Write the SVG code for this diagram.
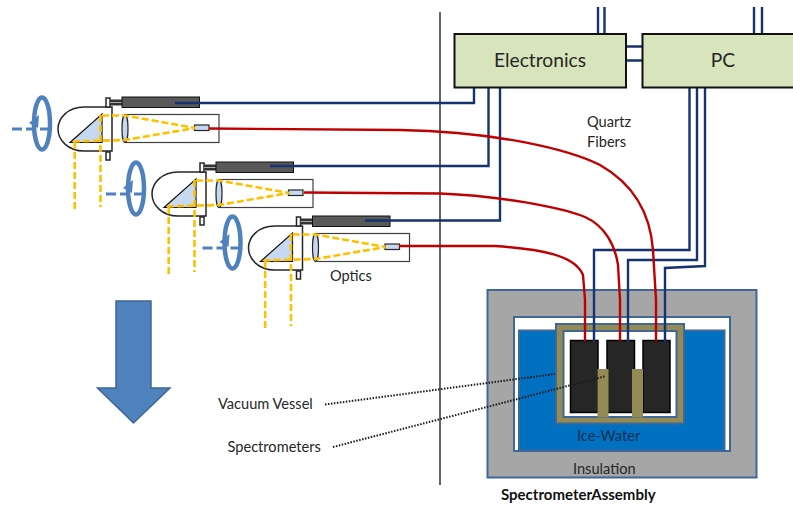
<svg xmlns="http://www.w3.org/2000/svg" width="793" height="507" viewBox="0 0 793 507">
<style>
text{font-family:"Lato","Open Sans","Liberation Sans",sans-serif;fill:#262626;font-size:14.6px}
.o{fill:#fff;stroke:#262626;stroke-width:1.5}
.y{fill:none;stroke:#ffc000;stroke-width:2.6;stroke-dasharray:7 3}
.l{fill:#c6d9f1;stroke:#262626;stroke-width:1.2}
.rot{fill:none;stroke:#4f81bd;stroke-width:4.5}
.b{fill:none;stroke:#14336f;stroke-width:2.4}
.r{fill:none;stroke:#c00000;stroke-width:2.4}
.d{fill:none;stroke:#1a1a1a;stroke-width:2;stroke-dasharray:1.5 1.5}
.h{stroke:#3f6797;stroke-width:2}
.box{fill:#d8e4bc;stroke:#111;stroke-width:2}
.sp{fill:#262626;stroke:#000;stroke-width:1.5}
.ol{fill:#948a54}
</style>
<defs>
<g id="scope">
<ellipse class="rot" cx="42" cy="123.500" rx="8" ry="26"/>
<path d="M12 129H54" fill="none" stroke="#4f81bd" stroke-width="3" stroke-dasharray="10 4"/>
<path d="M29 123L38 128L39 115Z" fill="#4f81bd"/>
<path d="M112 107H84C68 107 58 118 58 129C58 140 68 151 84 151H112Z" fill="#fff" stroke="#262626" stroke-width="1.500"/>
<rect class="o" x="106" y="98" width="4" height="9"/>
<rect class="o" x="106" y="152" width="4" height="8"/>
<rect x="110" y="99.500" width="12" height="6" fill="#333"/>
<path d="M110 102.500H122" stroke="#ddd" stroke-width="0.700"/>
<rect x="122" y="97" width="77.500" height="10.500" fill="#595959" stroke="#111" stroke-width="1"/>
<rect x="125" y="114.500" width="94" height="28" fill="#fff" stroke="#404040" stroke-width="1.200"/>
<path d="M70 142.500L102 114V142.500Z" fill="#c6d9f1" stroke="#111" stroke-width="1.200"/>
<ellipse class="l" cx="125" cy="128.500" rx="3" ry="14"/>
<rect class="l" x="194.500" y="125" width="14.500" height="5.500"/>
<path class="y" d="M102 115.500H125L195 128L125 140L71 141.500"/>
<path class="y" d="M100.500 115V207"/>
<path class="y" d="M74.700 142V211"/>
</g>
</defs>

<path d="M440 12V485" stroke="#666" stroke-width="2" fill="none"/>

<g id="assembly">
<rect x="487.500" y="290" width="269" height="187.500" fill="#a6a6a6" class="h"/>
<rect x="514" y="317" width="216" height="134" fill="#fff" class="h"/>
<rect x="519" y="330.500" width="205.500" height="120" fill="#0070c0" class="h"/>
<rect x="556" y="324" width="128" height="99.500" class="ol h"/>
<rect x="563.500" y="331" width="113" height="86" fill="#fff" class="h"/>
</g>

<g id="spectrometers">
<rect class="sp" x="570.500" y="340.500" width="27.500" height="72"/>
<rect class="sp" x="607" y="340.500" width="27.500" height="72"/>
<rect class="sp" x="643" y="340.500" width="27" height="72"/>
<rect class="ol" x="597.500" y="369" width="11" height="48.500"/>
<rect class="ol" x="632" y="369" width="11" height="48.500"/>
</g>

<g id="optics-1"><use href="#scope"/></g>
<g id="optics-2"><use href="#scope" x="94" y="65"/></g>
<g id="optics-3"><use href="#scope" x="190.500" y="119"/></g>

<g id="connectors">
<path class="b" d="M175 103H474V88"/>
<path class="b" d="M270 166H488.500V88"/>
<path class="b" d="M365 220.500H500V88"/>
<path class="b" d="M598 7V34M604.500 7V34M754 7V34M762 7V34"/>
<path class="b" d="M626 46.500H642.500M626 60.500H642.500"/>
<path class="b" d="M689.500 88V250H594V342"/>
<path class="b" d="M697 88V260H628V342"/>
<path class="b" d="M705 88V266L665 268V342"/>
<path class="r" d="M209 128.500L400 130C500 132 570 150 600 165C630 182 650 210 653 250L656 300V341"/>
<path class="r" d="M304 192.500L440 193.500C500 196 560 207 585 217C605 226 615 245 618 265L620 300V341"/>
<path class="r" d="M399 246H495C540 249 575 255 583 275L585 300V341"/>
<path class="d" d="M325 404.500L555 374"/>
<path class="d" d="M333 447L606 376"/>
</g>

<g id="electronics"><rect class="box" x="454.500" y="34" width="171.500" height="53.500"/><text x="540" y="67" text-anchor="middle" style="font-size:19.2px">Electronics</text></g>
<g id="pc"><rect class="box" x="642.500" y="34" width="152" height="53.500"/><text x="723" y="67" text-anchor="middle" style="font-size:19.2px">PC</text></g>

<g id="arrow"><path d="M116 301H151V388H170L133.500 423L97.500 388H116Z" fill="#4f81bd" stroke="#3f6797" stroke-width="1.500"/></g>

<g id="labels">
<text x="587" y="127">Quartz</text>
<text x="587" y="147">Fibers</text>
<text x="330" y="281">Optics</text>
<text x="218" y="409">Vacuum Vessel</text>
<text x="227.500" y="452">Spectrometers</text>
<text x="577" y="441" style="fill:#0c2f50">Ice-Water</text>
<text x="573" y="474">Insulation</text>
<text x="501" y="500" style="font-weight:700;font-size:15px;fill:#111">SpectrometerAssembly</text>
</g>
</svg>
